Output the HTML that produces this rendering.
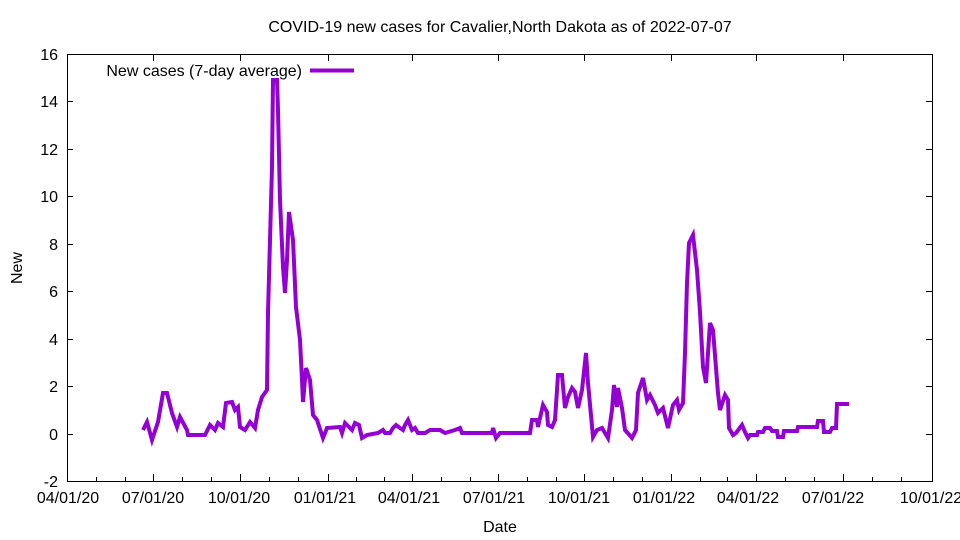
<!DOCTYPE html>
<html><head><meta charset="utf-8"><style>body{margin:0;background:#fff}svg{display:block}text{font-family:"Liberation Sans",sans-serif;font-size:16px;fill:#000}</style></head><body>
<svg width="960" height="540" viewBox="0 0 960 540">
<rect x="67.5" y="54.5" width="865" height="427" fill="none" stroke="#000" stroke-width="1"/>
<text x="500" y="32" text-anchor="middle">COVID-19 new cases for Cavalier,North Dakota as of 2022-07-07</text>
<g text-anchor="end">
<text x="58" y="487">-2</text><text x="58" y="440">0</text><text x="58" y="392">2</text><text x="58" y="345">4</text><text x="58" y="297">6</text><text x="58" y="250">8</text><text x="58" y="202">10</text><text x="58" y="155">12</text><text x="58" y="107">14</text><text x="58" y="60">16</text>
</g>
<g stroke="#000" stroke-width="1">
<path d="M67 434.5h6M67 386.5h6M67 339.5h6M67 291.5h6M67 244.5h6M67 196.5h6M67 149.5h6M67 101.5h6M932 434.5h-6M932 386.5h-6M932 339.5h-6M932 291.5h-6M932 244.5h-6M932 196.5h-6M932 149.5h-6M932 101.5h-6"/>
<path d="M153.5 481v-7M240.5 481v-7M328.5 481v-7M412.5 481v-7M498.5 481v-7M584.5 481v-7M671.5 481v-7M756.5 481v-7M843.5 481v-7M153.5 54v7M240.5 54v7M328.5 54v7M412.5 54v7M498.5 54v7M584.5 54v7M671.5 54v7M756.5 54v7M843.5 54v7"/>
<path d="M96.5 481v-4M125.5 481v-4M182.5 481v-4M211.5 481v-4M269.5 481v-4M298.5 481v-4M356.5 481v-4M384.5 481v-4M441.5 481v-4M470.5 481v-4M527.5 481v-4M556.5 481v-4M613.5 481v-4M642.5 481v-4M700.5 481v-4M727.5 481v-4M785.5 481v-4M814.5 481v-4M872.5 481v-4M901.5 481v-4"/>
</g>
<g text-anchor="middle">
<text x="68" y="503">04/01/20</text><text x="153" y="503">07/01/20</text><text x="239" y="503">10/01/20</text><text x="325" y="503">01/01/21</text><text x="409" y="503">04/01/21</text><text x="494" y="503">07/01/21</text><text x="579" y="503">10/01/21</text><text x="664" y="503">01/01/22</text><text x="748" y="503">04/01/22</text><text x="833" y="503">07/01/22</text><text x="931" y="503">10/01/22</text>
</g>
<text x="500" y="532" text-anchor="middle">Date</text>
<text x="22" y="268" text-anchor="middle" transform="rotate(-90 22 268)">New</text>
<text x="302" y="76" text-anchor="end">New cases (7-day average)</text>
<path d="M310 70.5h44" stroke="#9400d3" stroke-width="4"/>
<polyline fill="none" stroke="#9400d3" stroke-width="4" stroke-linejoin="miter" points="143,430 147,422 152,440 158,422 163,393 167,393 172,413 177,427 180,417 187,430 188,435 205,435 210,425 215,430 218,423 223,427 226,403 232,402 235,410 238,407 240,427 245,430 250,422 255,428 258,410 262,397 267,390 268,313 272,167 273,80 277,80 278,110 280,200 283,267 285,293 287,260 289,212 293,240 296,307 300,340 302,380 303,402 306,368 310,380 313,415 317,420 323,438 327,428 340,427 342,433 345,423 352,430 355,423 359,425 362,438 367,435 378,433 383,430 385,433 390,433 393,428 396,425 400,428 403,430 405,425 408,420 410,425 412,430 415,428 418,433 425,433 430,430 440,430 445,433 455,430 460,428 462,433 490,433 492,433 493,428 496,438 500,433 530,433 532,420 537,420 538,427 540,418 543,405 547,412 548,425 552,427 555,420 558,375 562,375 565,408 568,397 572,388 575,392 578,408 582,390 586,353 588,383 593,437 597,430 602,428 608,438 612,410 614,385 617,407 618,388 622,408 625,430 632,438 636,430 638,393 643,378 647,400 650,395 655,405 658,413 663,408 668,428 673,405 677,400 679,410 683,403 685,353 687,283 689,243 693,235 697,270 700,312 703,367 706,383 710,323 713,330 718,393 720,410 725,395 728,400 729,428 733,435 736,433 742,425 745,432 748,438 750,435 757,435 758,432 763,432 765,428 770,428 772,431 777,431 778,437 783,437 784,431 797,431 798,427 817,427 818,421 823,421 824,432 830,432 832,428 836,428 837,404 849,404"/>
</svg>
</body></html>
